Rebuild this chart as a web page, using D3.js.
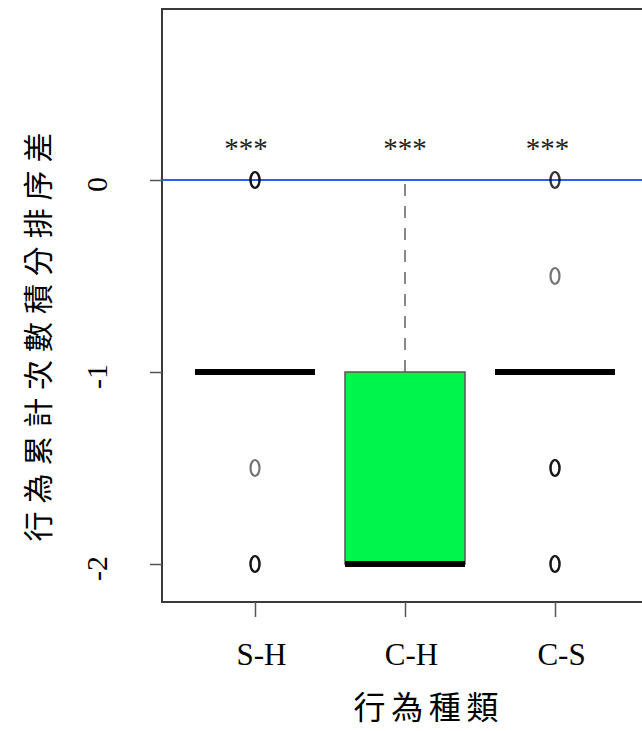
<!DOCTYPE html>
<html>
<head>
<meta charset="utf-8">
<script src="https://cdn.jsdelivr.net/npm/d3@7"></script>
<style>
  body { margin: 0; background: #fff; overflow: hidden; }
  svg { display: block; }
  .serif { font-family: "Liberation Serif", "DejaVu Serif", serif; }
  .cjk { font-family: "Noto Sans CJK TC", "Noto Sans CJK SC", sans-serif; }
</style>
</head>
<body>
<svg id="chart"></svg>
<script>
// boxplot stats per behaviour pair
const categories = ['S-H', 'C-H', 'C-S'];
const positions = [1, 2, 3];
const q1 = [-1, -2, -1];
const medians = [-1, -2, -1];
const q3 = [-1, -1, -1];
const whiskerLow = [-1, -2, -1];
const whiskerHigh = [-1, 0, -1];
// repeated values = overlapping points (drawn darker)
const outliersSH = [0, 0, 0, -1.5, -2, -2, -2];
const outliersCH = [];
const outliersCS = [0, 0, -0.5, -1.5, -1.5, -1.5, -2, -2, -2];
const starLabels = ['***', '***', '***'];
const starX = [0.94, 2, 2.95];
const starY = 0.115;
const yTicks = [0, -1, -2];
const refLine = 0;

const width = 642;
const height = 731;
const frameLeft = 162;
const frameTop = 9;
const frameBottom = 602;

const svg = d3.select('#chart').attr('width', width).attr('height', height);

const xScale = d3.scaleLinear().domain([1, 3]).range([255, 555]);
const yScale = d3.scaleLinear().domain([-2, 0]).range([564, 180]);
const boxW = xScale(1.8) - xScale(1);

// frame: left, top and bottom (right side is cut off)
const frame = svg.append('g').attr('stroke', '#3a3a3a').attr('stroke-width', 2);
frame.append('line').attr('x1', frameLeft).attr('x2', width + 10).attr('y1', frameTop).attr('y2', frameTop);
frame.append('line').attr('x1', frameLeft).attr('x2', frameLeft).attr('y1', frameTop - 1).attr('y2', frameBottom + 1);
frame.append('line').attr('x1', frameLeft).attr('x2', width + 10).attr('y1', frameBottom).attr('y2', frameBottom);

// axes
const yAxis = d3.axisLeft(yScale).tickValues(yTicks).tickSize(12).tickFormat(d => String(d));
const gy = svg.append('g').attr('transform', `translate(${frameLeft},0)`).call(yAxis);
gy.select('.domain').remove();
gy.selectAll('line').attr('stroke', '#555').attr('stroke-width', 1.5);
gy.selectAll('text')
  .attr('class', 'serif')
  .attr('font-size', 30)
  .attr('fill', '#000')
  .attr('text-anchor', 'middle')
  .attr('transform', 'rotate(-90)')
  .attr('x', -4)
  .attr('y', -66)
  .attr('dy', '0.35em');

const xAxis = d3.axisBottom(xScale).tickValues(positions).tickSize(15)
  .tickFormat((d, i) => categories[i]);
const gx = svg.append('g').attr('transform', `translate(0,${frameBottom})`).call(xAxis);
gx.select('.domain').remove();
gx.selectAll('line').attr('stroke', '#555').attr('stroke-width', 1.5);
gx.selectAll('text')
  .attr('class', 'serif')
  .attr('font-size', 31)
  .attr('fill', '#000')
  .attr('y', 63)
  .attr('dy', 0)
  .attr('dx', 6);

// reference line
svg.append('line')
  .attr('x1', frameLeft).attr('x2', width)
  .attr('y1', yScale(refLine)).attr('y2', yScale(refLine))
  .attr('stroke', '#2a5cf0')
  .attr('stroke-width', 2);

// boxes
positions.forEach((p, i) => {
  const cx = xScale(p);
  // whiskers
  if (whiskerHigh[i] > q3[i]) {
    svg.append('line')
      .attr('x1', cx).attr('x2', cx)
      .attr('y1', yScale(q3[i])).attr('y2', yScale(whiskerHigh[i]))
      .attr('stroke', '#888').attr('stroke-width', 2)
      .attr('stroke-dasharray', '12,10');
  }
  if (whiskerLow[i] < q1[i]) {
    svg.append('line')
      .attr('x1', cx).attr('x2', cx)
      .attr('y1', yScale(q1[i])).attr('y2', yScale(whiskerLow[i]))
      .attr('stroke', '#888').attr('stroke-width', 2)
      .attr('stroke-dasharray', '12,10');
  }
  if (q3[i] > q1[i]) {
    svg.append('rect')
      .attr('x', cx - boxW / 2)
      .attr('width', boxW)
      .attr('y', yScale(q3[i]))
      .attr('height', yScale(q1[i]) - yScale(q3[i]))
      .attr('fill', '#00f54c')
      .attr('stroke', '#555')
      .attr('stroke-width', 1.5);
  }
  svg.append('line')
    .attr('x1', cx - boxW / 2).attr('x2', cx + boxW / 2)
    .attr('y1', yScale(medians[i])).attr('y2', yScale(medians[i]))
    .attr('stroke', '#000')
    .attr('stroke-width', 6);
});

// outliers
[outliersSH, outliersCH, outliersCS].forEach((vals, i) => {
  svg.selectAll(null)
    .data(vals)
    .enter()
    .append('ellipse')
    .attr('cx', xScale(positions[i]))
    .attr('cy', d => yScale(d))
    .attr('rx', 4.5)
    .attr('ry', 8)
    .attr('fill', 'none')
    .attr('stroke', '#000')
    .attr('stroke-opacity', 0.55)
    .attr('stroke-width', 2.2);
});

// significance stars
svg.selectAll('.star')
  .data(starLabels)
  .enter()
  .append('text')
  .attr('class', 'serif')
  .attr('x', (d, i) => xScale(starX[i]))
  .attr('y', yScale(starY))
  .attr('text-anchor', 'middle')
  .attr('font-size', 29)
  .attr('fill', '#222')
  .text(d => d);

// axis titles
svg.append('text')
  .attr('class', 'cjk')
  .attr('x', 426)
  .attr('y', 719)
  .attr('text-anchor', 'middle')
  .attr('font-size', 32)
  .attr('textLength', 145)
  .attr('lengthAdjust', 'spacing')
  .text('行為種類');

svg.append('text')
  .attr('class', 'cjk')
  .attr('transform', 'translate(38,337) rotate(-90)')
  .attr('text-anchor', 'middle')
  .attr('dy', '0.38em')
  .attr('font-size', 30)
  .attr('textLength', 409)
  .attr('lengthAdjust', 'spacing')
  .text('行為累計次數積分排序差');
</script>
</body>
</html>
